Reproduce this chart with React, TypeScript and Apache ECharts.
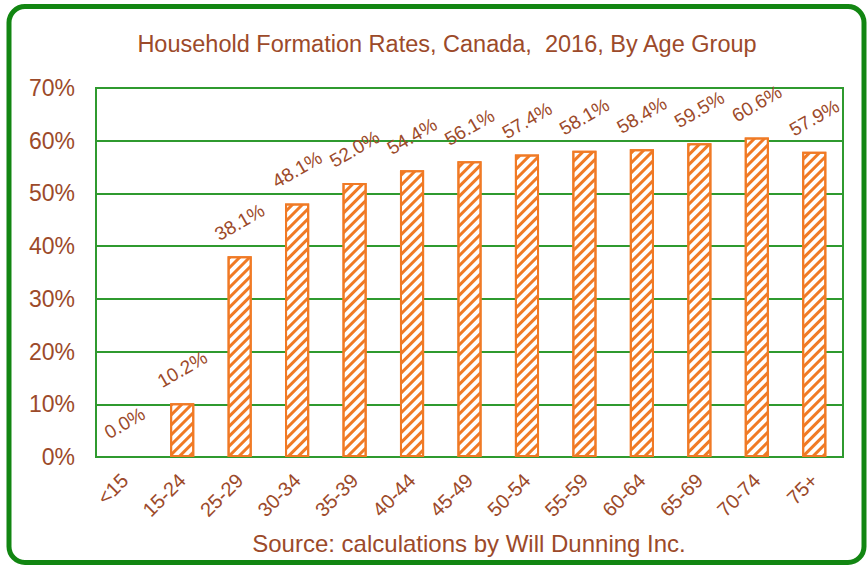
import React, { useEffect, useRef } from "react";
import * as echarts from "echarts";

const categories = ["<15", "15-24", "25-29", "30-34", "35-39", "40-44", "45-49", "50-54", "55-59", "60-64", "65-69", "70-74", "75+"];
const rates = [0.0, 10.2, 38.1, 48.1, 52.0, 54.4, 56.1, 57.4, 58.1, 58.4, 59.5, 60.6, 57.9];
const titleText = "Household Formation Rates, Canada,  2016, By Age Group";
const sourceText = "Source: calculations by Will Dunning Inc.";

const BROWN = "#9c4a2a";
const GREEN = "#2f9a2f";
const ORANGE = "#f07a25";
const FONT = "'Liberation Sans', Arial, sans-serif";

export default function App() {
  const ref = useRef<HTMLDivElement>(null);
  useEffect(() => {
    if (!ref.current) return;
    const chart = echarts.init(ref.current, undefined, { renderer: "svg" });
    chart.setOption({
      animation: false,
      backgroundColor: "#ffffff",
      textStyle: { fontFamily: FONT },
      graphic: [
        {
          type: "rect",
          shape: { x: 9, y: 6.5, width: 855, height: 556, r: 16 },
          style: { fill: "none", stroke: "#128612", lineWidth: 5 },
          silent: true,
        },
        {
          type: "text",
          x: 447,
          y: 44,
          style: {
            text: titleText,
            fill: BROWN,
            fontSize: 23.5,
            fontFamily: FONT,
            align: "center",
            verticalAlign: "middle",
          },
        },
        {
          type: "text",
          x: 469,
          y: 543,
          style: {
            text: sourceText,
            fill: BROWN,
            fontSize: 24,
            fontFamily: FONT,
            align: "center",
            verticalAlign: "middle",
          },
        },
      ],
      grid: { left: 96, right: 24, top: 88, bottom: 108, show: true, borderColor: GREEN, borderWidth: 2 },
      xAxis: {
        type: "category",
        data: categories,
        axisLine: { show: true, lineStyle: { color: GREEN, width: 2 } },
        axisTick: { show: false },
        axisLabel: { rotate: 45, color: BROWN, fontSize: 20, margin: 20, fontFamily: FONT, interval: 0 },
      },
      yAxis: {
        type: "value",
        min: 0,
        max: 70,
        interval: 10,
        axisLine: { show: false },
        axisTick: { show: false },
        splitLine: { lineStyle: { color: GREEN, width: 2 } },
        axisLabel: { formatter: "{value}%", color: BROWN, fontSize: 23, margin: 21, fontFamily: FONT },
      },
      series: [
        {
          type: "bar",
          data: rates.map((v) => (v === 0 ? { value: v, itemStyle: { borderWidth: 0 } } : v)),
          barWidth: "42%",
          itemStyle: {
            color: "#ffffff",
            borderColor: ORANGE,
            borderWidth: 2,
            decal: {
              symbol: "rect",
              color: ORANGE,
              dashArrayX: [1, 0],
              dashArrayY: [3, 4],
              rotation: -Math.PI / 4,
            },
          },
          label: {
            show: true,
            position: "top",
            distance: 34,
            rotate: 30,
            align: "center",
            verticalAlign: "middle",
            color: BROWN,
            fontSize: 19,
            fontFamily: FONT,
            formatter: (p: any) => Number(p.value).toFixed(1) + "%",
          },
        },
      ],
    });
    return () => chart.dispose();
  }, []);
  return <div ref={ref} style={{ position: "fixed", left: 0, top: 0, width: 867, height: 565 }} />;
}
